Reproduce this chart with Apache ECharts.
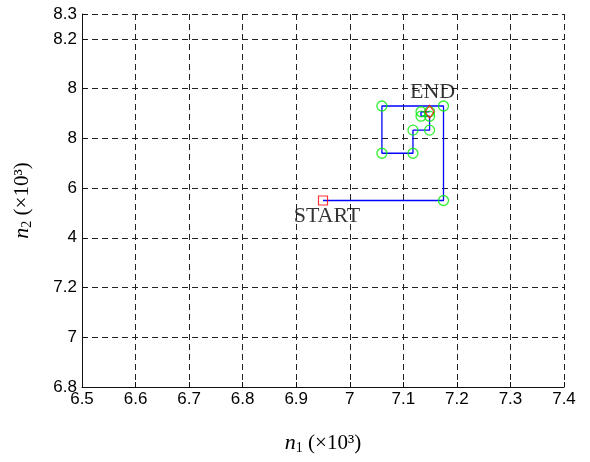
<!DOCTYPE html>
<html>
<head>
<meta charset="utf-8">
<script src="https://cdn.jsdelivr.net/npm/echarts@6/dist/echarts.min.js"></script>
<style>
html,body{margin:0;padding:0;background:#fff;}
#c{width:590px;height:462px;}
</style>
</head>
<body>
<div id="c"></div>
<script>
// Path of the search (n1, n2) in units of 10^3
var n1Path = [6.95, 7.175, 7.175, 7.06, 7.06, 7.118, 7.118, 7.149, 7.149, 7.133, 7.133, 7.149];
var n2Path = [7.55, 7.55, 7.93, 7.93, 7.74, 7.74, 7.833, 7.833, 7.889, 7.889, 7.907, 7.907];

// Tick labels as printed in the reference
var xTickValues = [6.5, 6.6, 6.7, 6.8, 6.9, 7.0, 7.1, 7.2, 7.3, 7.4];
var xTickLabels = ["6.5", "6.6", "6.7", "6.8", "6.9", "7", "7.1", "7.2", "7.3", "7.4"];
var yTickValues = [6.8, 7.0, 7.2, 7.4, 7.6, 7.8, 8.0, 8.2, 8.3];
var yTickLabels = ["6.8", "7", "7.2", "4", "6", "8", "8", "8.2", "8.3"];

function nearestLabel(v, vals, labels) {
  var best = 0, bd = Infinity;
  for (var i = 0; i < vals.length; i++) {
    var d = Math.abs(vals[i] - v);
    if (d < bd) { bd = d; best = i; }
  }
  return bd < 0.02 ? labels[best] : '';
}

var pathData = n1Path.map(function (x, i) { return [x, n2Path[i]]; });
var circleData = pathData.slice(1);
var startData = [pathData[0]];
var endData = [pathData[pathData.length - 1]];

var chart = echarts.init(document.getElementById('c'), null, {renderer: 'canvas'});
var gridLine = {show: true, lineStyle: {color: '#222', width: 1, type: [6, 4]}};
var tickFont = {fontFamily: 'Liberation Sans, Arial, sans-serif', fontSize: 17, color: '#000'};
var nameStyle = {
  fontFamily: 'Liberation Serif, serif', fontSize: 21, color: '#000',
  rich: {
    i: {fontFamily: 'Liberation Serif, serif', fontStyle: 'italic', fontSize: 22, color: '#000'},
    s: {fontFamily: 'Liberation Serif, serif', fontSize: 14, color: '#000', padding: [10, 0, 0, 0]}
  }
};

chart.setOption({
  animation: false,
  backgroundColor: '#fff',
  grid: {left: 82, right: 26, top: 14, bottom: 75, containLabel: false},
  xAxis: {
    type: 'value', min: 6.5, max: 7.4, interval: 0.1,
    axisLine: {show: true, onZero: false, lineStyle: {color: '#111', width: 1}},
    axisTick: {show: true, inside: true, length: 5, lineStyle: {color: '#111'}},
    splitLine: gridLine,
    axisLabel: Object.assign({margin: 4, formatter: function (v) { return nearestLabel(v, xTickValues, xTickLabels); }}, tickFont),
    name: '{i|n}{s|1} (×10³)',
    nameLocation: 'middle', nameGap: 44,
    nameTextStyle: nameStyle
  },
  yAxis: {
    type: 'value', min: 6.8, max: 8.3, interval: 0.2,
    axisLine: {show: true, onZero: false, lineStyle: {color: '#111', width: 1}},
    axisTick: {show: true, inside: true, length: 5, lineStyle: {color: '#111'}},
    splitLine: gridLine,
    axisLabel: Object.assign({margin: 5, formatter: function (v) { return nearestLabel(v, yTickValues, yTickLabels); }}, tickFont),
    name: '{i|n}{s|2} (×10³)',
    nameLocation: 'middle', nameGap: 48, nameRotate: 90,
    nameTextStyle: nameStyle
  },
  series: [
    {
      type: 'line', data: pathData, symbol: 'none',
      lineStyle: {color: '#0000ff', width: 1.3}, z: 3
    },
    {
      type: 'scatter', data: circleData, symbol: 'circle', symbolSize: 10,
      itemStyle: {color: 'rgba(0,0,0,0)', borderColor: '#00ee00', borderWidth: 1.3}, z: 4
    },
    {
      type: 'scatter', data: startData, symbol: 'rect', symbolSize: 9,
      itemStyle: {color: 'rgba(0,0,0,0)', borderColor: '#ff0000', borderWidth: 1.2}, z: 5,
      label: {show: true, formatter: 'START', position: 'inside', offset: [4, 16],
        fontFamily: 'Liberation Serif, serif', fontSize: 22, color: '#000'}
    },
    {
      type: 'scatter', data: endData, symbol: 'diamond', symbolSize: [9, 13],
      itemStyle: {color: 'rgba(0,0,0,0)', borderColor: '#ff0000', borderWidth: 1.2}, z: 5,
      label: {show: true, formatter: 'END', position: 'inside', offset: [3, -20],
        fontFamily: 'Liberation Serif, serif', fontSize: 22, color: '#000'}
    }
  ]
});
</script>
</body>
</html>
